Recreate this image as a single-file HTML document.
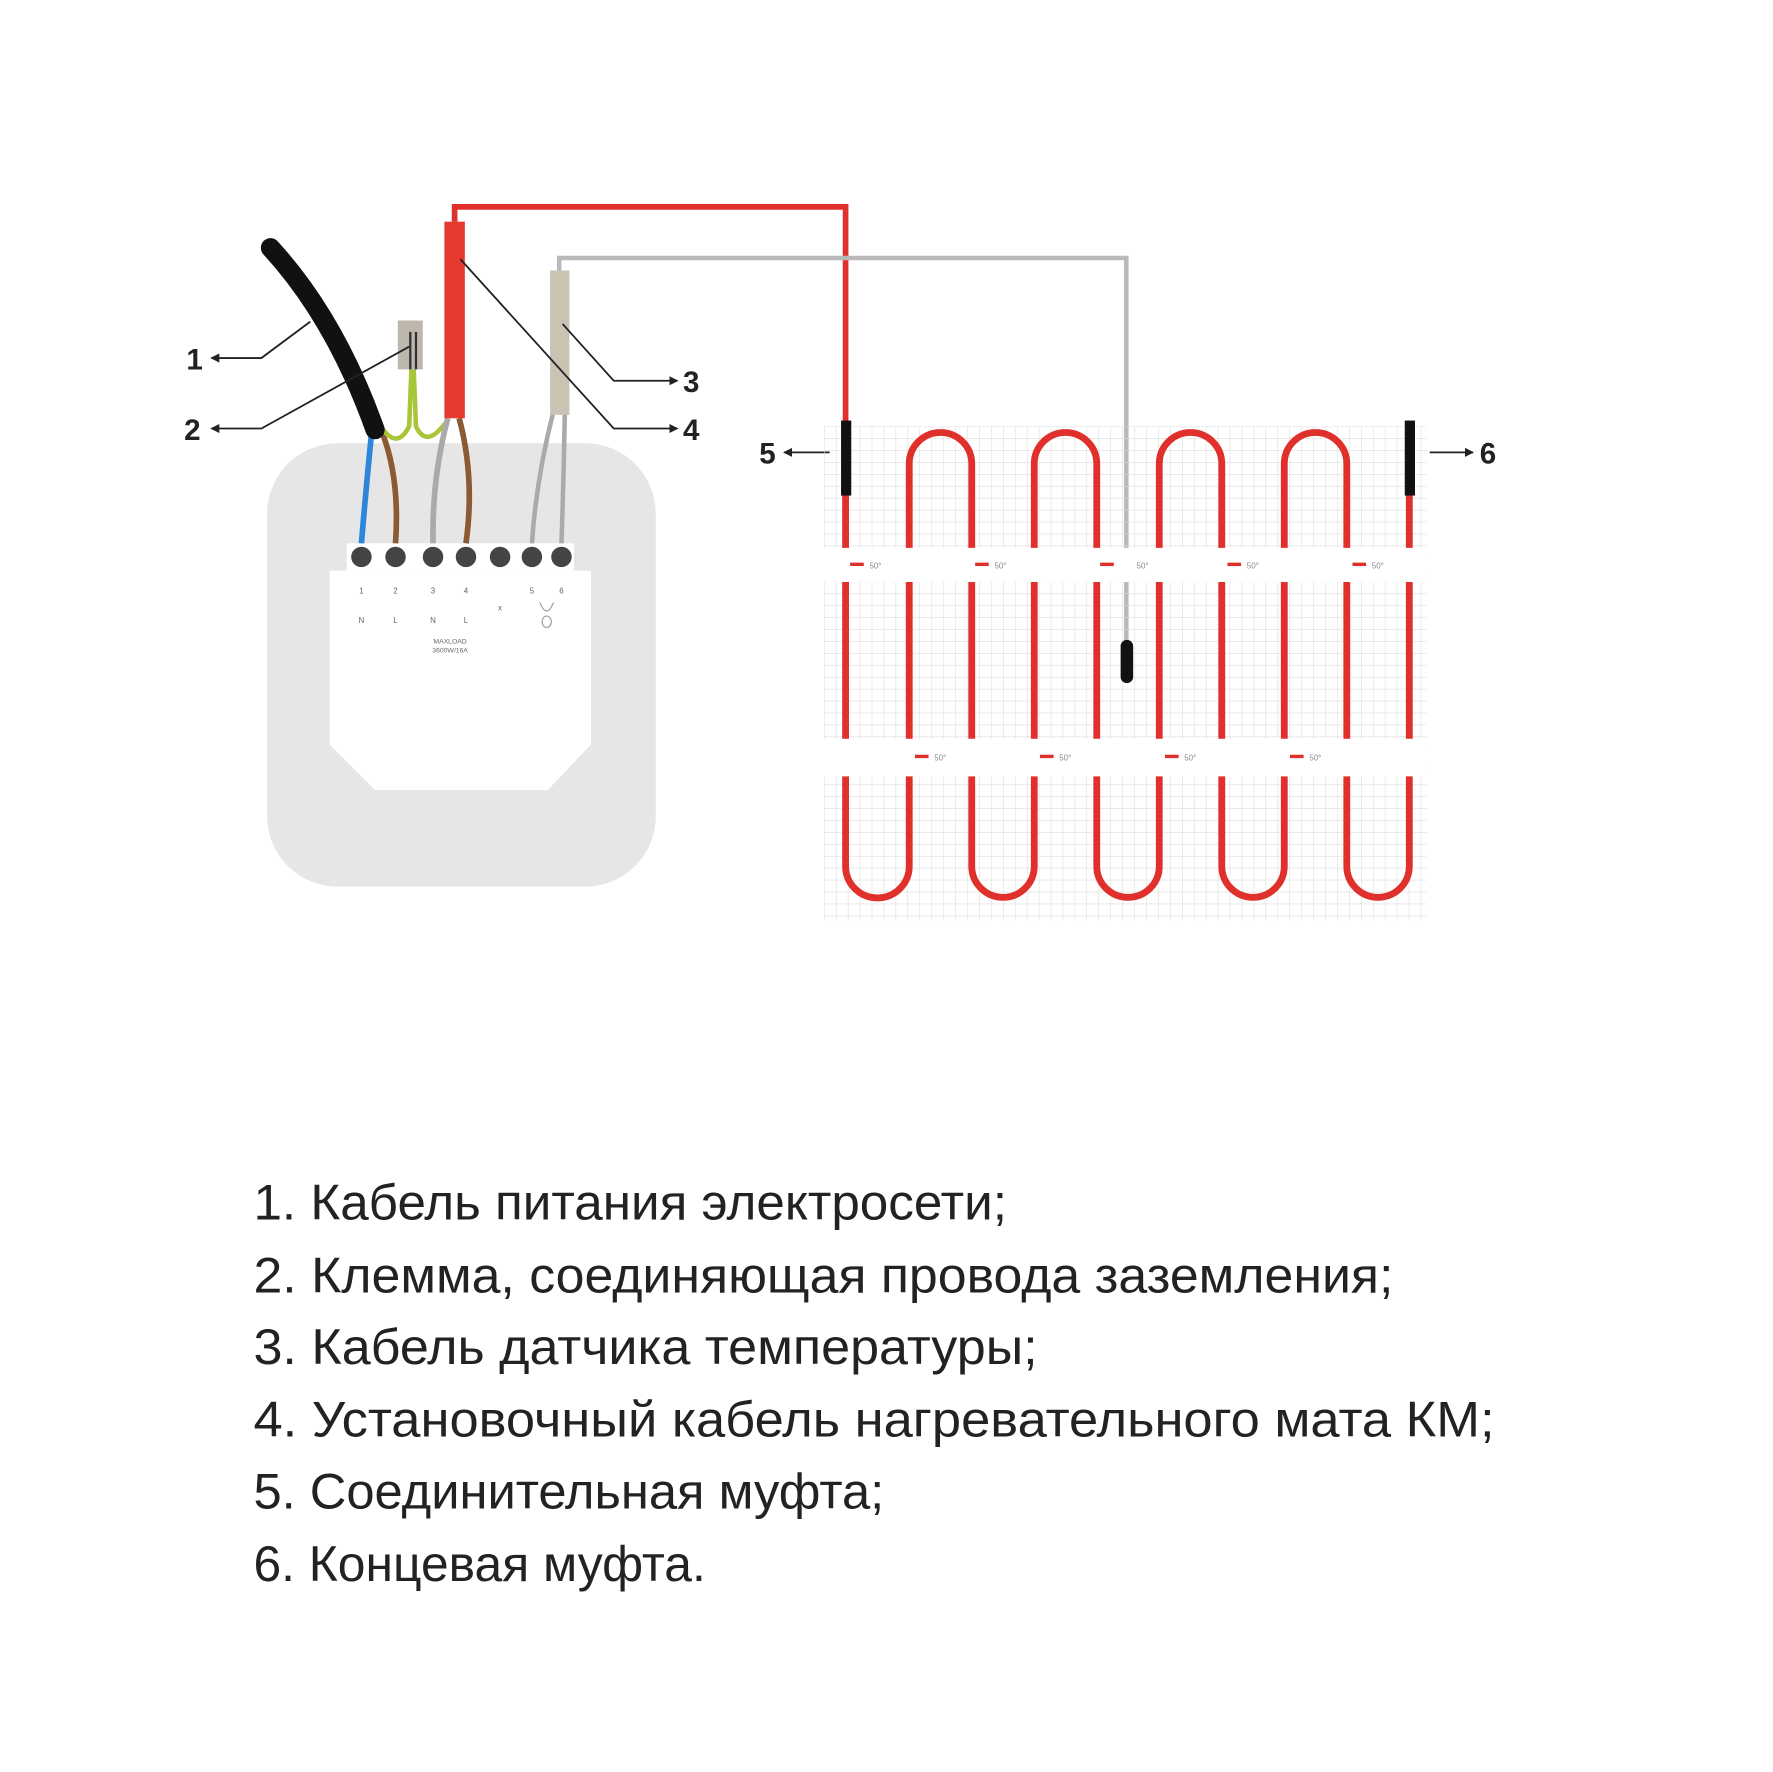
<!DOCTYPE html>
<html><head><meta charset="utf-8"><style>html,body{margin:0;padding:0;background:#fff}svg{display:block}</style></head>
<body>
<svg width="1773" height="1772" viewBox="0 0 1560 1559" preserveAspectRatio="none" xmlns="http://www.w3.org/2000/svg">
<defs>
<pattern id="g" x="725" y="375" width="10.5" height="10.5" patternUnits="userSpaceOnUse">
<path d="M0 0H10.5M0 0V10.5" stroke="#dcdcdc" stroke-width="1"/>
</pattern>
<marker id="ah" markerWidth="8" markerHeight="8" refX="7" refY="4" orient="auto" markerUnits="userSpaceOnUse"><path d="M0 0L8 4L0 8Z" fill="#222"/></marker>
</defs>
<rect width="1560" height="1559" fill="#fff"/>
<rect x="235" y="390" width="342" height="390" rx="62" fill="#e6e6e6"/>
<rect x="305" y="478" width="200" height="24" fill="#fff"/>
<path d="M290 502H520V655L482 695H330L290 655Z" fill="#fff"/>
<g fill="#444">
<circle cx="318" cy="490" r="9"/><circle cx="348" cy="490" r="9"/><circle cx="381" cy="490" r="9"/><circle cx="410" cy="490" r="9"/><circle cx="440" cy="490" r="9"/><circle cx="468" cy="490" r="9"/><circle cx="494" cy="490" r="9"/>
</g>
<g font-family="Liberation Sans, sans-serif" font-size="7" fill="#666" text-anchor="middle">
<text x="318" y="522">1</text><text x="348" y="522">2</text><text x="381" y="522">3</text><text x="410" y="522">4</text><text x="468" y="522">5</text><text x="494" y="522">6</text>
<text x="318" y="548">N</text><text x="348" y="548">L</text><text x="381" y="548">N</text><text x="410" y="548">L</text><text x="440" y="537">x</text>
<text x="396" y="566" font-size="6">MAXLOAD</text><text x="396" y="574" font-size="6">3600W/16A</text>
</g>
<path d="M475 530 Q481 545 487 530 M481 542 a4 5 0 1 0 0.1 0" stroke="#999" fill="none"/>
<path d="M327 380 Q322 430 318 478" stroke="#2d86d9" stroke-width="5" fill="none"/>
<path d="M336 380 Q352 420 348 478" stroke="#8a5a35" stroke-width="5" fill="none"/>
<path d="M337 378 Q350 395 360 375 L362 325 M364 325 L366 375 Q375 395 392 372" stroke="#a8c437" stroke-width="4" fill="none"/>
<rect x="350" y="282" width="22" height="43" fill="#bdb7ad"/>
<path d="M361 292V325 M366 292V325" stroke="#333" stroke-width="2"/>
<path d="M394 368 Q380 420 381 478" stroke="#aaa" stroke-width="5" fill="none"/>
<path d="M404 368 Q418 420 410 478" stroke="#8a5a35" stroke-width="5" fill="none"/>
<path d="M487 362 Q472 420 468 478 M497 362 Q496 420 494 478" stroke="#aaa" stroke-width="4" fill="none"/>
<path d="M238 218 Q295 280 330 378" stroke="#111" stroke-width="17" stroke-linecap="round" fill="none"/>
<path d="M400 195V182H744V375" stroke="#e0302b" stroke-width="5" fill="none"/>
<rect x="391" y="195" width="18" height="173" fill="#e63a30"/>
<path d="M492 240V227H991V570" stroke="#b9b9b9" stroke-width="4" fill="none"/>
<rect x="484" y="238" width="17" height="127" fill="#c9c3b4"/>
<g stroke="#222" stroke-width="1.6" fill="none" marker-end="url(#ah)">
<path d="M273 283 L230 315 H186"/>
<path d="M360 305 L230 377 H186"/>
<path d="M495 285 L540 335 H596"/>
<path d="M405 228 L540 377 H596"/>
<path d="M730 398 H690"/>
<path d="M1258 398 H1296"/>
</g>
<g font-family="Liberation Sans, sans-serif" font-size="26" font-weight="bold" fill="#222">
<text x="164" y="325">1</text><text x="162" y="387">2</text><text x="601" y="345">3</text><text x="601" y="387">4</text><text x="668" y="408">5</text><text x="1302" y="408">6</text>
</g>
<rect x="725" y="375" width="530" height="435" fill="url(#g)"/>
<g fill="#fff"><rect x="725" y="482" width="530" height="30"/><rect x="725" y="650" width="530" height="33"/></g>
<g stroke="#e0302b" stroke-width="6" fill="none">
<path d="M744 375V482 M744 512V650 M744 683V762 A28 28 0 0 0 800 762V683 M800 650V512 M800 482V408 A27.5 27.5 0 0 1 855 408V482 M855 512V650 M855 683V762 A27.5 27.5 0 0 0 910 762V683 M910 650V512 M910 482V408 A27.5 27.5 0 0 1 965 408V482 M965 512V650 M965 683V762 A27.5 27.5 0 0 0 1020 762V683 M1020 650V512 M1020 482V408 A27.5 27.5 0 0 1 1075 408V482 M1075 512V650 M1075 683V762 A27.5 27.5 0 0 0 1130 762V683 M1130 650V512 M1130 482V408 A27.5 27.5 0 0 1 1185 408V482 M1185 512V650 M1185 683V762 A27.5 27.5 0 0 0 1240 762V683 M1240 650V512 M1240 482V375"/>
</g>
<g font-family="Liberation Sans, sans-serif" font-size="7" fill="#888">
<g fill="#e0302b"><rect x="748" y="495" width="12" height="3"/><rect x="858" y="495" width="12" height="3"/><rect x="968" y="495" width="12" height="3"/><rect x="1080" y="495" width="12" height="3"/><rect x="1190" y="495" width="12" height="3"/>
<rect x="805" y="664" width="12" height="3"/><rect x="915" y="664" width="12" height="3"/><rect x="1025" y="664" width="12" height="3"/><rect x="1135" y="664" width="12" height="3"/></g>
<text x="765" y="500">50°</text><text x="875" y="500">50°</text><text x="1000" y="500">50°</text><text x="1097" y="500">50°</text><text x="1207" y="500">50°</text>
<text x="822" y="669">50°</text><text x="932" y="669">50°</text><text x="1042" y="669">50°</text><text x="1152" y="669">50°</text>
</g>
<rect x="740" y="370" width="9" height="66" fill="#111"/>
<rect x="1236" y="370" width="9" height="66" fill="#111"/>
<rect x="986" y="563" width="11" height="38" rx="5.5" fill="#111"/>
<g font-family="Liberation Sans, sans-serif" font-size="44" fill="#222">
<text x="223" y="1073" textLength="663" lengthAdjust="spacingAndGlyphs">1. Кабель питания электросети;</text>
<text x="223" y="1137" textLength="1003" lengthAdjust="spacingAndGlyphs">2. Клемма, соединяющая провода заземления;</text>
<text x="223" y="1200" textLength="690" lengthAdjust="spacingAndGlyphs">3. Кабель датчика температуры;</text>
<text x="223" y="1264" textLength="1092" lengthAdjust="spacingAndGlyphs">4. Установочный кабель нагревательного мата КМ;</text>
<text x="223" y="1327" textLength="555" lengthAdjust="spacingAndGlyphs">5. Соединительная муфта;</text>
<text x="223" y="1391" textLength="398" lengthAdjust="spacingAndGlyphs">6. Концевая муфта.</text>
</g>
</svg>
</body></html>
